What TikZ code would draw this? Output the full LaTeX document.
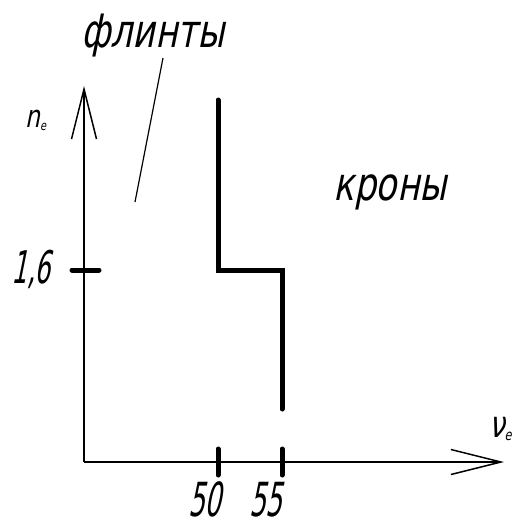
\documentclass[tikz,border=0pt]{standalone}
\usepackage{fontspec}
\setmainfont{DejaVu Sans}[FakeSlant=0.2,FakeStretch=0.75]
\newfontfamily\numfont{DejaVu Sans}[FakeSlant=0.2,FakeStretch=0.55]
\usetikzlibrary{arrows.meta}

\begin{document}
\begin{tikzpicture}[
  x=1pt, y=-1pt,
  axis/.style={line width=1.5pt, -{Straight Barb[length=50pt,width=25pt]}},
  border/.style={line width=5pt, line cap=round},
  tickmark/.style={line width=5pt, line cap=round},
  leader/.style={line width=1.2pt},
  lbl/.style={inner sep=0pt, anchor=base, font=\fontsize{46}{50}\selectfont},
  numlbl/.style={inner sep=0pt, anchor=base, font=\numfont\fontsize{47}{50}\selectfont},
  axlbl/.style={inner sep=0pt, anchor=base}
]
\useasboundingbox (0,0) rectangle (515,522);

% axes
\coordinate (O) at (84,462);
\coordinate (ytip) at (84,86);
\coordinate (xtip) at (504,462);
\draw[axis] (O) -- (ytip);
\draw[axis] (O) -- (xtip);

% axis labels
\node[axlbl, font=\fontsize{31}{32}\selectfont] (nlbl) at (36,127) {n\textsubscript{\fontsize{13}{14}\selectfont e}};
\node[axlbl, anchor=base west, font=\fontsize{37}{38}\selectfont] (vlbl) at (489,437) {ν\textsubscript{\fontsize{15}{16}\selectfont e}};

% ticks
\draw[tickmark] (72,270) -- (99,270);
\draw[tickmark] (218,449) -- (218,475);
\draw[tickmark] (282,449) -- (282,475);
\node[numlbl, font=\numfont\fontsize{45}{48}\selectfont] (t16) at (31,283) {1,6};
\node[numlbl] (t50) at (205,516) {50};
\node[numlbl] (t55) at (266,516) {55};

% glass boundary
\coordinate (b1) at (218,100);
\coordinate (b2) at (218,270);
\coordinate (b3) at (282,270);
\coordinate (b4) at (282,409);
\draw[border] (b1) -- (b2) -- (b3) -- (b4);

% regions
\node[lbl] (flint) at (153,47) {флинты};
\node[lbl] (crown) at (390,200) {кроны};
\coordinate (flintA) at (163,58);
\coordinate (flintB) at (135,202);
\draw[leader] (flintA) -- (flintB);
\end{tikzpicture}
\end{document}
